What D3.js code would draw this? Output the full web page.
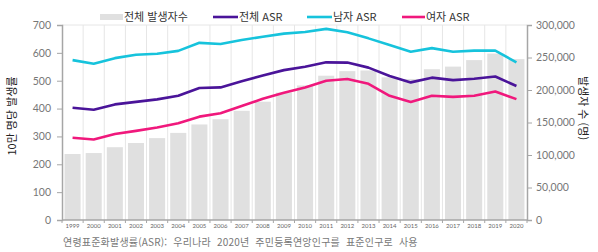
<!DOCTYPE html>
<html lang="ko">
<head>
<meta charset="UTF-8">
<title>발생률 추이</title>
<style>
  body { margin: 0; background: #fff; }
  text { font-family: "Noto Sans CJK KR", "Noto Sans", sans-serif; }
</style>
</head>
<body>
<script src="https://cdn.jsdelivr.net/npm/d3@7"></script>
<script>
const years = ['1999','2000','2001','2002','2003','2004','2005','2006','2007','2008','2009','2010','2011','2012','2013','2014','2015','2016','2017','2018','2019','2020'];
const totalCases = [101500,103000,112000,118500,126000,134000,147000,155000,168000,182000,196000,207000,222000,229000,230000,219500,217000,232000,236000,246000,256000,247500];
const totalASR = [403,396,415,424,433,446,474,476,498,519,538,550,566,565,547,517,494,511,502,507,515,481];
const maleASR = [574,561,581,593,597,607,636,632,646,658,669,675,686,674,652,628,604,617,604,608,608,566];
const femaleASR = [295,289,309,320,332,347,371,383,409,435,457,476,500,506,489,446,424,446,442,446,461,434];
const leftTicks = [0,100,200,300,400,500,600,700];
const rightTicks = [0,50000,100000,150000,200000,250000,300000];

const W = 598, H = 252;
const plotL = 62, plotR = 527, plotT = 25, plotB = 220;

const svg = d3.select('body').append('svg')
    .attr('width', W)
    .attr('height', H);

const x = d3.scaleBand().domain(years).range([plotL, plotR]).paddingInner(0.24).paddingOuter(0.12);
const yL = d3.scaleLinear().domain([0, 700]).range([plotB, plotT]);
const yR = d3.scaleLinear().domain([0, 300000]).range([plotB, plotT]);

// vertical grid between categories
const bounds = d3.range(years.length + 1).map(i => plotL + i * (plotR - plotL) / years.length);
svg.append('g').selectAll('line').data(bounds.slice(1, -1)).join('line')
    .attr('x1', d => d).attr('x2', d => d)
    .attr('y1', plotT).attr('y2', plotB)
    .attr('stroke', '#e6e6e6').attr('stroke-width', 1);
svg.append('line')
    .attr('x1', plotL).attr('x2', plotR).attr('y1', plotT).attr('y2', plotT)
    .attr('stroke', '#e6e6e6');

// bars
svg.append('g').selectAll('rect').data(totalCases).join('rect')
    .attr('x', (d, i) => x(years[i]))
    .attr('width', x.bandwidth())
    .attr('y', d => yR(d))
    .attr('height', d => plotB - yR(d))
    .attr('fill', '#e0e0e0');

// lines
const series = [
    { vals: maleASR, color: '#16c3dc' },
    { vals: totalASR, color: '#4a1499' },
    { vals: femaleASR, color: '#f0187c' }
];
const line = d3.line()
    .x((d, i) => x(years[i]) + x.bandwidth() / 2)
    .y(d => yL(d));
series.forEach(s => {
    svg.append('path')
        .datum(s.vals)
        .attr('d', line)
        .attr('fill', 'none')
        .attr('stroke', s.color)
        .attr('stroke-width', 2.6)
        .attr('stroke-linejoin', 'round');
});

// axes
const axL = svg.append('g')
    .attr('transform', `translate(${plotL},0)`)
    .call(d3.axisLeft(yL).tickValues(leftTicks).tickSize(5).tickPadding(6));
const axR = svg.append('g')
    .attr('transform', `translate(${plotR},0)`)
    .call(d3.axisRight(yR).tickValues(rightTicks).tickSize(5).tickPadding(4).tickFormat(d3.format(',')));
[axL, axR].forEach(a => {
    a.select('.domain').attr('stroke', '#a6a6a6').attr('stroke-width', 1.5);
    a.selectAll('.tick line').attr('stroke', '#a6a6a6');
    a.selectAll('.tick text').attr('fill', '#777').style('font-family', 'Lato, "Open Sans", sans-serif').style('font-size', '10.5px');
});

const axB = svg.append('g')
    .attr('transform', `translate(0,${plotB})`);
axB.append('line')
    .attr('x1', plotL).attr('x2', plotR)
    .attr('stroke', '#a6a6a6').attr('stroke-width', 1.5);
axB.selectAll('.tk').data(bounds).join('line')
    .attr('class', 'tk')
    .attr('x1', d => d).attr('x2', d => d)
    .attr('y1', 0).attr('y2', 3)
    .attr('stroke', '#a6a6a6');
axB.selectAll('text').data(years).join('text')
    .attr('x', d => x(d) + x.bandwidth() / 2)
    .attr('y', 8)
    .attr('text-anchor', 'middle')
    .attr('fill', '#666')
    .style('font-size', '6px')
    .style('font-family', 'Lato, sans-serif')
    .text(d => d);

// axis titles
svg.append('text')
    .attr('transform', 'translate(16,116) rotate(-90)')
    .attr('text-anchor', 'middle')
    .attr('fill', '#222')
    .style('font-size', '11px')
    .text('10만 명당 발생률');
svg.append('text')
    .attr('transform', 'translate(579,108) rotate(90)')
    .attr('text-anchor', 'middle')
    .attr('fill', '#222')
    .style('font-size', '11px')
    .text('발생자 수 (명)');

// legend
const legend = [
    { label: '전체 발생자수', color: '#e0e0e0', x: 100, w: 23, sw: 6 },
    { label: '전체 ASR', color: '#4a1499', x: 213, w: 25, sw: 2.6 },
    { label: '남자 ASR', color: '#16c3dc', x: 307, w: 25, sw: 2.6 },
    { label: '여자 ASR', color: '#f0187c', x: 402, w: 23, sw: 2.6 }
];
const lg = svg.append('g').selectAll('g').data(legend).join('g')
    .attr('transform', d => `translate(${d.x},17)`);
lg.append('line')
    .attr('x1', 0).attr('x2', d => d.w)
    .attr('stroke', d => d.color)
    .attr('stroke-width', d => d.sw);
lg.append('text')
    .attr('x', d => d.w + 1)
    .attr('y', 4)
    .attr('fill', '#333')
    .style('font-size', '11px')
    .text(d => d.label);

// footnote
svg.append('text')
    .attr('x', 63).attr('y', 246)
    .attr('fill', '#777')
    .style('font-size', '10px')
    .style('word-spacing', '3px')
    .style('letter-spacing', '0.2px')
    .text('연령표준화발생률(ASR):  우리나라  2020년  주민등록연앙인구를  표준인구로  사용');
</script>
</body>
</html>
